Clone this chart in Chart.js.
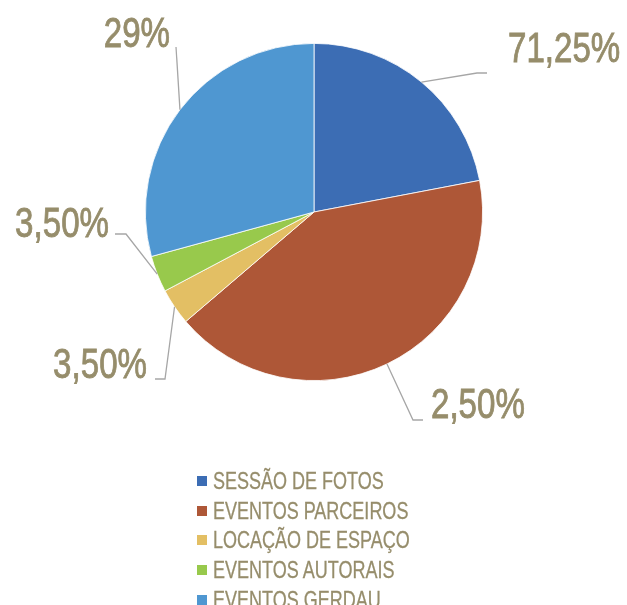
<!DOCTYPE html>
<html>
<head>
<meta charset="utf-8">
<script src="https://cdn.jsdelivr.net/npm/chart.js@4.4.1/dist/chart.umd.min.js"></script>
<style>
    html, body { margin: 0; padding: 0; background: #fff; overflow: hidden; }
    #wrap { position: relative; width: 627px; height: 605px; }
    #chart { position: absolute; left: 0; top: 0; }
    #legend {
        position: absolute;
        left: 197px;
        top: 466px;
        margin: 0;
        padding: 0;
        list-style: none;
        font-family: "Liberation Sans Narrow", "Liberation Sans", sans-serif;
        font-size: 24px;
        color: #968d6b;
        -webkit-text-stroke: 0.3px #968d6b;
    }
    #legend li { display: flex; align-items: center; height: 29.8px; white-space: nowrap; }
    #legend .box { display: inline-block; width: 10px; height: 10px; margin-right: 6px; flex: none; }
    #legend .txt { display: inline-block; transform-origin: left center; }
    body.narrow #legend .txt { transform: scaleX(0.92); }
    body.wide #legend .txt { transform: scaleX(0.75); }
</style>
</head>
<body>
<div id="wrap">
    <canvas id="chart" width="627" height="605"></canvas>
    <ul id="legend"></ul>
</div>
<script>
// Chart data
const categories = ['SESSÃO DE FOTOS', 'EVENTOS PARCEIROS', 'LOCAÇÃO DE ESPAÇO', 'EVENTOS AUTORAIS', 'EVENTOS GERDAU'];
const shares = [22, 41.75, 3.5, 3.5, 29.25];
const shownLabels = ['71,25%', '2,50%', '3,50%', '3,50%', '29%'];
const colors = ['#3c6db4', '#ae5737', '#e3bf64', '#98c94c', '#4f97d1'];

// Label placement, relative to the pie centre
const labelLayout = [
    { elbow: [163, -139], end: [173, -139], text: [194, -150], align: 'left' },
    { elbow: [99, 208], end: [109, 208], text: [117, 206], align: 'left' },
    { elbow: [-149, 167], end: [-159, 167], text: [-167, 166], align: 'right' },
    { elbow: [-188, 22], end: [-199, 22], text: [-205, 25], align: 'right' },
    { elbow: [-138, -165], end: [-138, -165], text: [-144, -165], align: 'right' }
];

const labelColor = '#968d6b';
const leaderColor = '#a6a6a6';

// Check if the narrow font is installed
function hasFont(name) {
    const c = document.createElement('canvas').getContext('2d');
    const sample = 'SESSÃO 71,25%';
    c.font = '40px monospace';
    const base = c.measureText(sample).width;
    c.font = '40px "' + name + '", monospace';
    return c.measureText(sample).width !== base;
}

const narrow = hasFont('Liberation Sans Narrow');
document.body.classList.add(narrow ? 'narrow' : 'wide');
const labelFont = narrow ? '"Liberation Sans Narrow"' : '"Liberation Sans"';
const squeeze = narrow ? 0.94 : 0.77;

// Leader lines and value labels
const pieLabels = {
    id: 'pieLabels',
    afterDatasetsDraw(chart) {
        const ctx = chart.ctx;
        const meta = chart.getDatasetMeta(0);
        meta.data.forEach((arc, i) => {
            const lay = labelLayout[i];
            const cx = arc.x, cy = arc.y;
            const mid = (arc.startAngle + arc.endAngle) / 2;
            const ax = cx + Math.cos(mid) * arc.outerRadius;
            const ay = cy + Math.sin(mid) * arc.outerRadius;

            ctx.save();
            ctx.strokeStyle = leaderColor;
            ctx.lineWidth = 1.3;
            ctx.beginPath();
            ctx.moveTo(ax, ay);
            ctx.lineTo(cx + lay.elbow[0], cy + lay.elbow[1]);
            ctx.lineTo(cx + lay.end[0], cy + lay.end[1]);
            ctx.stroke();

            ctx.translate(cx + lay.text[0], cy + lay.text[1]);
            ctx.scale(squeeze, 1);
            ctx.font = '43px ' + labelFont;
            ctx.fillStyle = labelColor;
            ctx.strokeStyle = labelColor;
            ctx.lineWidth = 0.9;
            ctx.textAlign = lay.align;
            ctx.textBaseline = 'alphabetic';
            ctx.fillText(shownLabels[i], 0, 0);
            ctx.strokeText(shownLabels[i], 0, 0);
            ctx.restore();
        });
    }
};

new Chart(document.getElementById('chart'), {
    type: 'pie',
    data: {
        labels: categories,
        datasets: [{
            data: shares,
            backgroundColor: colors,
            borderColor: '#ffffff',
            borderWidth: 0.8
        }]
    },
    options: {
        responsive: false,
        animation: false,
        layout: { padding: { left: 145, right: 144, top: 42, bottom: 223 } },
        plugins: {
            legend: { display: false },
            tooltip: { enabled: false }
        }
    },
    plugins: [pieLabels]
});

// Legend
const legend = document.getElementById('legend');
categories.forEach((name, i) => {
    const li = document.createElement('li');
    li.innerHTML = '<span class="box" style="background:' + colors[i] + '"></span><span class="txt">' + name + '</span>';
    legend.appendChild(li);
});
</script>
</body>
</html>
